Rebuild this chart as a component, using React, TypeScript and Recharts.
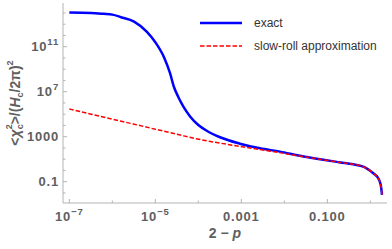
import { LineChart, Line, XAxis, YAxis } from "recharts";

// 2 - p and the two series
const exactX = [
  1e-7, 3.2e-7, 6.3e-7, 1e-6, 1.6e-6, 3.2e-6, 6.3e-6, 1e-5, 1.6e-5, 2.2e-5,
  2.7e-5, 3.4e-5, 4.5e-5, 6.5e-5, 1e-4, 1.6e-4, 3.2e-4, 9.3e-4, 2.7e-3,
  7.9e-3, 0.023, 0.068, 0.2, 0.4, 0.63, 0.82, 1.17, 1.53, 1.75, 1.87,
];
const exactY = [
  1.1e14, 1e14, 8.3e13, 7.1e13, 4.2e13, 1.7e13, 2.2e12, 2.5e11, 1.1e10, 4.4e8,
  2.75e7, 3.6e6, 4.7e5, 6e4, 1.1e4, 3240, 890, 240, 93, 47, 20, 9.8, 5.2, 3.5,
  2.4, 1.55, 0.56, 0.2, 0.051, 0.0066,
];
const slowRollX = [
  1e-7, 3.2e-7, 1e-6, 3.2e-6, 1e-5, 3.2e-5, 7.9e-5, 1.9e-4, 9.3e-4, 4.7e-3,
  0.023, 0.068, 0.2, 0.4, 0.63, 0.82, 1.17, 1.53, 1.75, 1.87,
];
const slowRollY = [
  2.9e5, 1e5, 3.6e4, 1.3e4, 4600, 1660, 720, 380, 138, 52, 19, 9.8, 5.2, 3.5,
  2.4, 1.55, 0.56, 0.2, 0.051, 0.0066,
];

// tick positions as powers of ten
const xTickExp = [-7, -6, -5, -4, -3, -2, -1, 0];
const xLabelExp = [-7, -5, -3, -1];
const xLabels: Record<number, [string, string]> = {
  [-7]: ["10", "\u22127"],
  [-5]: ["10", "\u22125"],
  [-3]: ["0.001", ""],
  [-1]: ["0.100", ""],
};
const yTickExp = [-2, -1, 0, 1, 2, 3, 4, 5, 6, 7, 8, 9, 10, 11, 12, 13, 14];
const yLabelExp = [11, 7, 3, -1];
const yLabels: Record<number, [string, string]> = {
  [11]: ["10", "11"],
  [7]: ["10", "7"],
  [3]: ["1000", ""],
  [-1]: ["0.1", ""],
};

const exactData = exactX.map((x, i) => ({ lx: Math.log10(x), ly: Math.log10(exactY[i]) }));
const slowRollData = slowRollX.map((x, i) => ({ lx: Math.log10(x), ly: Math.log10(slowRollY[i]) }));

const FRAME = "#b4b4b4";
const INK = "#606060";
const FONT = "'Liberation Sans', Arial, sans-serif";

function XTick({ x, y, payload, top }: any) {
  const v = payload.value;
  const major = xLabelExp.includes(v);
  const len = major ? 4 : 2.5;
  const dir = top ? 1 : -1;
  const lab = xLabels[v];
  return (
    <g>
      <line x1={x} x2={x} y1={y} y2={y + dir * len} stroke={FRAME} />
      {!top && lab && (
        <text x={x} y={y + 17.5} textAnchor="middle" fill={INK} fontSize={13} fontWeight="bold" fontFamily={FONT} letterSpacing={0.8}>
          <tspan>{lab[0]}</tspan>
          {lab[1] && (
            <tspan fontSize={9.5} dy={-6}>
              {lab[1]}
            </tspan>
          )}
        </text>
      )}
    </g>
  );
}

function YTick({ x, y, payload, right }: any) {
  const v = payload.value;
  const major = yLabelExp.includes(v);
  const len = major ? 4 : 2.5;
  const dir = right ? -1 : 1;
  const lab = yLabels[v];
  return (
    <g>
      <line x1={x} x2={x + dir * len} y1={y} y2={y} stroke={FRAME} />
      {!right && lab && (
        <text x={x - 4} y={y + 4.6} textAnchor="end" fill={INK} fontSize={13} fontWeight="bold" fontFamily={FONT} letterSpacing={0.8}>
          <tspan>{lab[0]}</tspan>
          {lab[1] && (
            <tspan fontSize={9.5} dy={-6}>
              {lab[1]}
            </tspan>
          )}
        </text>
      )}
    </g>
  );
}

function LegendBox() {
  const row = { display: "flex", alignItems: "center", height: 22.5 } as const;
  const txt = { marginLeft: 12, fontSize: 12, color: "#333", fontFamily: FONT };
  return (
    <div style={{ position: "absolute", left: 200, top: 12 }}>
      <div style={row}>
        <svg width={42} height={10}>
          <line x1={0} x2={42} y1={5} y2={5} stroke="#0000ff" strokeWidth={2.5} />
        </svg>
        <span style={txt}>exact</span>
      </div>
      <div style={row}>
        <svg width={42} height={10}>
          <line x1={0} x2={42} y1={5} y2={5} stroke="#ff0000" strokeWidth={1.5} strokeDasharray="4.5 2" />
        </svg>
        <span style={txt}>slow-roll approximation</span>
      </div>
    </div>
  );
}

export default function App() {
  return (
    <div style={{ width: 392, height: 249, position: "relative", background: "#fff" }}>
      <style>{`body{margin:0}`}</style>
      <LineChart width={392} height={249} margin={{ top: 3, right: 5, bottom: 0, left: 0 }}>
        <XAxis
          dataKey="lx"
          type="number"
          domain={[-7.147, 0.388]}
          ticks={xTickExp}
          allowDataOverflow
          height={46}
          tickSize={0}
          tickMargin={0}
          axisLine={{ stroke: FRAME }}
          tickLine={false}
          tick={<XTick />}
          interval={0}
        />
        <XAxis
          xAxisId="top"
          orientation="top"
          dataKey="lx"
          type="number"
          domain={[-7.147, 0.388]}
          ticks={xTickExp}
          allowDataOverflow
          height={0}
          tickSize={0}
          tickMargin={0}
          axisLine={{ stroke: FRAME }}
          tickLine={false}
          tick={<XTick top />}
          interval={0}
        />
        <YAxis
          dataKey="ly"
          type="number"
          domain={[-2.893, 14.884]}
          ticks={yTickExp}
          allowDataOverflow
          width={63}
          tickSize={0}
          tickMargin={0}
          axisLine={{ stroke: FRAME }}
          tickLine={false}
          tick={<YTick />}
          interval={0}
        />
        <YAxis
          yAxisId="right"
          orientation="right"
          dataKey="ly"
          type="number"
          domain={[-2.893, 14.884]}
          ticks={yTickExp}
          allowDataOverflow
          width={0}
          tickSize={0}
          tickMargin={0}
          axisLine={{ stroke: FRAME }}
          tickLine={false}
          tick={<YTick right />}
          interval={0}
        />
        <Line
          data={exactData}
          dataKey="ly"
          type="monotone"
          stroke="#0000ff"
          strokeWidth={2.5}
          dot={false}
          isAnimationActive={false}
        />
        <Line
          data={slowRollData}
          dataKey="ly"
          type="monotone"
          stroke="#ff0000"
          strokeWidth={1.5}
          strokeDasharray="4.5 2"
          dot={false}
          isAnimationActive={false}
        />
        <text x={225} y={238} textAnchor="middle" fill={INK} fontSize={14} fontWeight="bold" fontFamily={FONT}>
          <tspan>2 {"\u2212"} </tspan>
          <tspan fontStyle="italic">p</tspan>
        </text>
        <text
          x={103}
          y={20}
          transform="rotate(-90 0 0) translate(-206 0)"
          textAnchor="middle"
          fill={INK}
          fontSize={14}
          fontWeight="bold"
          fontFamily={FONT}
        >
          <tspan>{"<"}</tspan>
          <tspan fontStyle="italic">{"\u03c7"}</tspan>
          <tspan fontSize={9} dy={3}>c</tspan>
          <tspan fontSize={9} dx={-5} dy={-11}>2</tspan>
          <tspan dy={8}>{">/("}</tspan>
          <tspan fontStyle="italic">H</tspan>
          <tspan fontSize={9} dy={3}>c</tspan>
          <tspan dy={-3}>{"/2\u03c0)"}</tspan>
          <tspan fontSize={9} dy={-7}>2</tspan>
        </text>
      </LineChart>
      <LegendBox />
    </div>
  );
}
